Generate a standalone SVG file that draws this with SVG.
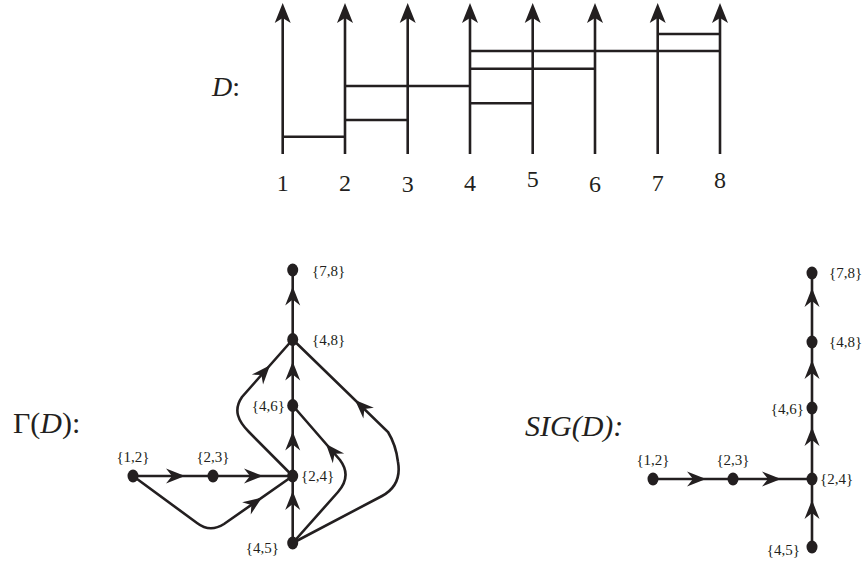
<svg xmlns="http://www.w3.org/2000/svg" xmlns:xlink="http://www.w3.org/1999/xlink" width="865" height="563" viewBox="0 0 865 563">
<style>
.ln{stroke:#231f20;stroke-width:2.6;fill:none}
.ah{fill:#231f20}
.nd{fill:#231f20}
.lb{font-family:'Liberation Serif','Times New Roman',Times,serif;font-size:15px;fill:#231f20}
.num{font-family:'Liberation Serif','Times New Roman',Times,serif;font-size:24px;fill:#231f20;text-anchor:middle}
.ttl{font-family:'Liberation Serif','Times New Roman',Times,serif;font-size:30px;fill:#231f20}
.it{font-style:italic}
</style>
<defs>
<path id="ta" d="M0,0 L-20,-8 L-15,0 L-20,8 Z"/>
<path id="ea" d="M0,0 L-19,-7.5 L-13,0 L-19,7.5 Z"/>
</defs>

<g id="diagramD">
<text class="ttl" x="212" y="96" style="font-size:28px"><tspan class="it">D</tspan>:</text>
<g class="ln">
<line x1="282.7" y1="154" x2="282.7" y2="12"/>
<line x1="345" y1="154" x2="345" y2="12"/>
<line x1="407.7" y1="154" x2="407.7" y2="12"/>
<line x1="470" y1="154" x2="470" y2="12"/>
<line x1="532.7" y1="154" x2="532.7" y2="12"/>
<line x1="595" y1="154" x2="595" y2="12"/>
<line x1="657.7" y1="154" x2="657.7" y2="12"/>
<line x1="720" y1="154" x2="720" y2="12"/>
<line x1="282.7" y1="136.7" x2="345" y2="136.7"/>
<line x1="345" y1="120" x2="407.7" y2="120"/>
<line x1="345" y1="86" x2="470" y2="86"/>
<line x1="470" y1="103.3" x2="532.7" y2="103.3"/>
<line x1="470" y1="68.7" x2="595" y2="68.7"/>
<line x1="470" y1="51" x2="720" y2="51"/>
<line x1="657.7" y1="34" x2="720" y2="34"/>
</g>
<g class="ah">
<use xlink:href="#ta" transform="translate(282.7,3) rotate(-90)"/>
<use xlink:href="#ta" transform="translate(345,3) rotate(-90)"/>
<use xlink:href="#ta" transform="translate(407.7,3) rotate(-90)"/>
<use xlink:href="#ta" transform="translate(470,3) rotate(-90)"/>
<use xlink:href="#ta" transform="translate(532.7,3) rotate(-90)"/>
<use xlink:href="#ta" transform="translate(595,3) rotate(-90)"/>
<use xlink:href="#ta" transform="translate(657.7,3) rotate(-90)"/>
<use xlink:href="#ta" transform="translate(720,3) rotate(-90)"/>
</g>
<text class="num" x="282.7" y="191">1</text>
<text class="num" x="345" y="191">2</text>
<text class="num" x="407.7" y="192">3</text>
<text class="num" x="470" y="190.5">4</text>
<text class="num" x="532.7" y="187">5</text>
<text class="num" x="595" y="192">6</text>
<text class="num" x="657.7" y="191">7</text>
<text class="num" x="720" y="188">8</text>
</g>

<text class="ttl" x="13" y="433">Γ(<tspan class="it">D</tspan>):</text>
<text class="ttl it" x="525" y="436">SIG(D):</text>

<g id="gamma-connectors">
<g class="ln">
<line x1="133" y1="476" x2="292.7" y2="476"/>
<line x1="292.7" y1="543" x2="292.7" y2="270"/>
<path d="M133,476 L197,523 Q210,533 224,524 L292.7,476"/>
<path d="M292.7,476 L249,432 C238,421 233,410 242,397 L292.7,339.5"/>
<path d="M292.7,543 L338,492 Q352,476 340,460 L292.7,405.5"/>
<path d="M292.7,543 L382,496 Q402,485 398,462 Q396,445 388,432 L292.7,339.5"/>
</g>
<g class="ah">
<use xlink:href="#ea" transform="translate(185,476)"/>
<use xlink:href="#ea" transform="translate(263,476)"/>
<use xlink:href="#ea" transform="translate(292.7,491) rotate(-90)"/>
<use xlink:href="#ea" transform="translate(292.7,431.5) rotate(-90)"/>
<use xlink:href="#ea" transform="translate(292.7,361.5) rotate(-90)"/>
<use xlink:href="#ea" transform="translate(292.7,286.5) rotate(-90)"/>
<use xlink:href="#ea" transform="translate(262,497.5) rotate(-35)"/>
<use xlink:href="#ea" transform="translate(270,365.3) rotate(-48.6)"/>
<use xlink:href="#ea" transform="translate(326,444) rotate(-131)"/>
<use xlink:href="#ea" transform="translate(355,400) rotate(-135.8)"/>
</g>
</g>

<g id="g-12"><ellipse class="nd" cx="133" cy="476" rx="5.5" ry="6.5"/><text class="lb" x="133" y="462" text-anchor="middle">{1,2}</text></g>
<g id="g-23"><ellipse class="nd" cx="213" cy="476" rx="5.5" ry="6.5"/><text class="lb" x="213" y="462" text-anchor="middle">{2,3}</text></g>
<g id="g-24"><ellipse class="nd" cx="292.7" cy="476" rx="5.5" ry="6.5"/><text class="lb" x="301" y="481">{2,4}</text></g>
<g id="g-45"><ellipse class="nd" cx="292.7" cy="543" rx="5.5" ry="6.5"/><text class="lb" x="279" y="553" text-anchor="end">{4,5}</text></g>
<g id="g-46"><ellipse class="nd" cx="292.7" cy="405.5" rx="5.5" ry="6.5"/><text class="lb" x="285" y="411" text-anchor="end">{4,6}</text></g>
<g id="g-48"><ellipse class="nd" cx="292.7" cy="339.5" rx="5.5" ry="6.5"/><text class="lb" x="312" y="345">{4,8}</text></g>
<g id="g-78"><ellipse class="nd" cx="292.7" cy="270" rx="5.5" ry="6.5"/><text class="lb" x="312" y="276">{7,8}</text></g>

<g id="sig-connectors">
<g class="ln">
<line x1="653" y1="479" x2="812" y2="479"/>
<line x1="812" y1="547" x2="812" y2="273"/>
</g>
<g class="ah">
<use xlink:href="#ea" transform="translate(706,479)"/>
<use xlink:href="#ea" transform="translate(781,479)"/>
<use xlink:href="#ea" transform="translate(812,500) rotate(-90)"/>
<use xlink:href="#ea" transform="translate(812,427) rotate(-90)"/>
<use xlink:href="#ea" transform="translate(812,360) rotate(-90)"/>
<use xlink:href="#ea" transform="translate(812,288) rotate(-90)"/>
</g>
</g>

<g id="s-12"><ellipse class="nd" cx="653" cy="479" rx="5.5" ry="6.5"/><text class="lb" x="653" y="465" text-anchor="middle">{1,2}</text></g>
<g id="s-23"><ellipse class="nd" cx="733" cy="479" rx="5.5" ry="6.5"/><text class="lb" x="733" y="465" text-anchor="middle">{2,3}</text></g>
<g id="s-24"><ellipse class="nd" cx="812" cy="479" rx="5.5" ry="6.5"/><text class="lb" x="820" y="484">{2,4}</text></g>
<g id="s-45"><ellipse class="nd" cx="812" cy="547" rx="5.5" ry="6.5"/><text class="lb" x="800" y="555" text-anchor="end">{4,5}</text></g>
<g id="s-46"><ellipse class="nd" cx="812" cy="408" rx="5.5" ry="6.5"/><text class="lb" x="804" y="414" text-anchor="end">{4,6}</text></g>
<g id="s-48"><ellipse class="nd" cx="812" cy="342" rx="5.5" ry="6.5"/><text class="lb" x="829" y="347">{4,8}</text></g>
<g id="s-78"><ellipse class="nd" cx="812" cy="273" rx="5.5" ry="6.5"/><text class="lb" x="829" y="278">{7,8}</text></g>
</svg>
